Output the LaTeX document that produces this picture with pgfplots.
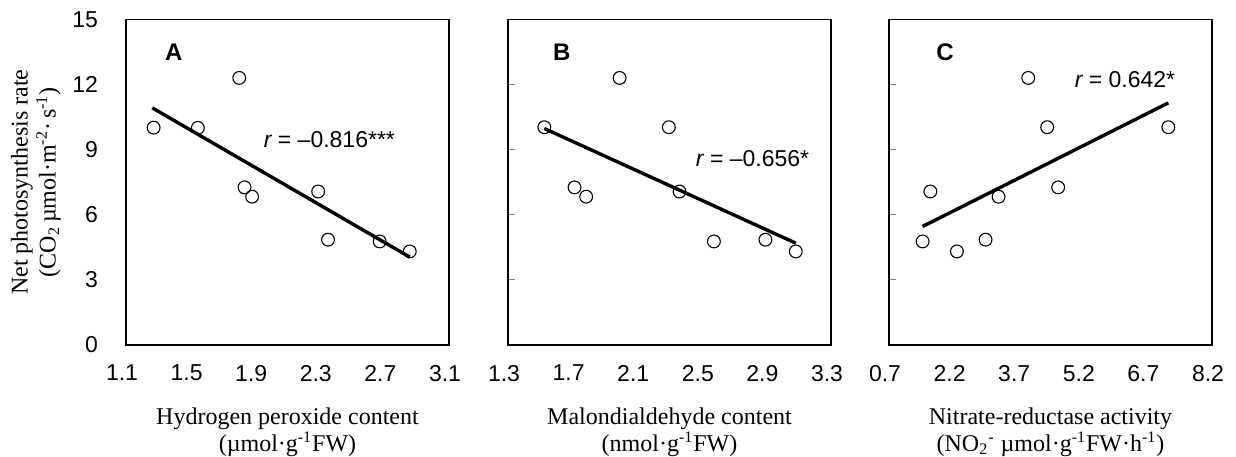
\documentclass[border=0pt]{standalone}
\usepackage{fontspec}
\setmainfont{Liberation Serif}
\newfontfamily\arial{Liberation Sans}
\usepackage{pgfplots}
\pgfplotsset{compat=1.18}
\pgfplotsset{
  panel/.style={
    scale only axis, width=161.5pt, height=162.85pt,
    ymin=0, ymax=15, clip=false,
    axis line style={line width=0.75pt},
    tick pos=left, tick align=inside,
    x tick style={draw=none},
    major tick length=3.5pt,
    y tick style={line width=0.6pt},
    /pgf/number format/assume math mode=true,
    ticklabel style={font=\arial\fontsize{11.5}{13}\selectfont},
    xticklabel style={yshift=-6.5pt, xshift=-2pt,
      /pgf/number format/.cd, fixed, fixed zerofill, precision=1},
    xlabel style={at={(axis description cs:0.5,-0.17)}, anchor=north, align=center,
      font=\fontsize{12}{13.5}\selectfont},
    ylabel style={align=center, font=\fontsize{12}{14}\selectfont},
  },
  reg/.style={black, line width=1.7pt, no marks},
  pts/.style={only marks, mark=o, mark size=3.2pt, black, mark options={line width=0.55pt}},
}
\tikzset{
  lett/.style={font=\arial\bfseries\fontsize{12}{14}\selectfont},
  rtext/.style={font=\arial\fontsize{11.5}{13}\selectfont, anchor=west},
}
\begin{document}
\begin{tikzpicture}
\path[use as bounding box] (-63pt,-55.5pt) rectangle (555pt,172.5pt);
% Panel A
\begin{axis}[panel, at={(0pt,0pt)}, anchor=south west,
  xmin=1.1, xmax=3.1, xtick={1.1,1.5,1.9,2.3,2.7,3.1},
  ytick={0,3,6,9,12,15}, y tick style={draw=none},
  yticklabel style={xshift=-10.5pt},
  xlabel={Hydrogen peroxide content\\(µmol·g\textsuperscript{-1}FW)},
  ylabel={Net photosynthesis rate\\(CO\textsubscript{2}\,µmol·m\textsuperscript{-2}·\,s\textsuperscript{-1})},
  ylabel style={at={(axis description cs:-0.378,0.5)}, anchor=north}]
\addplot[reg] coordinates {(1.263,10.92) (2.857,4.05)};
\addplot[pts] coordinates {
(1.271,10.01) (1.545,10.0) (1.801,12.3) (1.834,7.26) (1.881,6.83)
(2.290,7.07) (2.351,4.85) (2.671,4.77) (2.857,4.31)};
\node[lett] at (axis cs:1.396,13.46) {A};
\node[rtext] at (axis cs:1.91,9.46) {{\itshape r} = –0.816***};
\end{axis}
% Panel B
\begin{axis}[panel, at={(191pt,0pt)}, anchor=south west,
  xmin=1.3, xmax=3.3, xtick={1.3,1.7,2.1,2.5,2.9,3.3},
  ytick={3,6,9,12}, yticklabels={},
  xlabel={Malondialdehyde content\\(nmol·g\textsuperscript{-1}FW)}]
\addplot[reg] coordinates {(1.525,9.97) (3.082,4.69)};
\addplot[pts] coordinates {
(1.525,10.03) (1.991,12.3) (2.296,10.03) (1.712,7.26) (1.784,6.83)
(2.362,7.07) (2.575,4.77) (2.894,4.85) (3.082,4.31)};
\node[lett] at (axis cs:1.633,13.5) {B};
\node[rtext] at (axis cs:2.42,8.58) {{\itshape r} = –0.656*};
\end{axis}
% Panel C
\begin{axis}[panel, at={(381.5pt,0pt)}, anchor=south west,
  xmin=0.7, xmax=8.2, xtick={0.7,2.2,3.7,5.2,6.7,8.2},
  ytick={3,6,9,12}, yticklabels={},
  xlabel={Nitrate-reductase activity\\(NO\textsubscript{2}\textsuperscript{-} µmol·g\textsuperscript{-1}FW·h\textsuperscript{-1})}]
\addplot[reg] coordinates {(1.481,5.46) (7.186,11.15)};
\addplot[pts] coordinates {
(1.481,4.77) (1.660,7.07) (2.277,4.31) (2.942,4.85) (3.244,6.83)
(3.933,12.3) (4.373,10.03) (4.628,7.26) (7.186,10.03)};
\node[lett] at (axis cs:2.0,13.5) {C};
\node[rtext] at (axis cs:4.851,12.23) {{\itshape r} = 0.642*};
\end{axis}
\end{tikzpicture}
\end{document}
